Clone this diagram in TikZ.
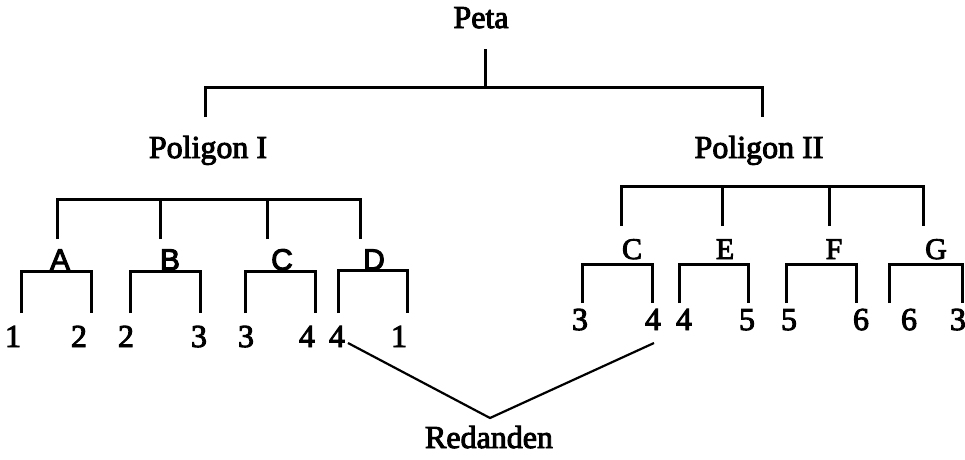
\documentclass[tikz,border=0pt]{standalone}
\usepackage{fontspec}
\setmainfont{Liberation Serif}
\newfontfamily\sertk{Liberation Serif}[FakeBold=3]
\newfontfamily\lsans{Liberation Sans}[FakeBold=3.5]
\begin{document}
\begin{tikzpicture}[x=1pt,y=-1pt,
  ln/.style={line width=3pt,line cap=butt,line join=miter},
  thin/.style={line width=2.2pt},
  tx/.style={inner sep=0pt,anchor=base,font=\sertk\fontsize{32}{36}\selectfont},
  lt/.style={inner sep=0pt,anchor=base,font=\lsans\fontsize{30}{34}\selectfont},
  rt/.style={inner sep=0pt,anchor=base,font=\sertk\fontsize{30}{34}\selectfont}]
\useasboundingbox (0,0) rectangle (965,459);
% top level
\node[tx] (peta) at (481,28) {Peta};
\coordinate (p0) at (485,49);
\coordinate (pbar) at (485,87);
\coordinate (p1) at (205,117);
\coordinate (p2) at (762,117);
\draw[ln] (p0) -- (pbar);
\draw[ln] (p1) |- (pbar) -| (p2);
\node[tx] (pol1) at (208,158) {Poligon I};
\node[tx] (pol2) at (759,158) {Poligon II};
% left group
\coordinate (lbar) at (210,199);
\coordinate (lA) at (57,239);
\coordinate (lB) at (160,239);
\coordinate (lC) at (267,239);
\coordinate (lD) at (360,239);
\draw[ln] (lA) |- (lbar) -| (lD);
\draw[ln] (lB) -- (lB |- lbar);
\draw[ln] (lC) -- (lC |- lbar);
\node[lt] (A) at (60,270) {A};
\node[lt] (B) at (170,270) {B};
\node[lt] (C1) at (282,270) {C};
\node[lt] (D) at (374,270) {D};
% left brackets
\coordinate (Abar) at (56,271);
\coordinate (A1) at (21,313); \coordinate (A2) at (91,313);
\coordinate (Bbar) at (165,271);
\coordinate (B1) at (130,313); \coordinate (B2) at (200,313);
\coordinate (Cbar) at (280,271);
\coordinate (C1a) at (245,313); \coordinate (C1b) at (315,313);
\coordinate (Dbar) at (372,270);
\coordinate (D1) at (338,313); \coordinate (D2) at (407,313);
\draw[ln] (A1) |- (Abar) -| (A2);
\draw[ln] (B1) |- (Bbar) -| (B2);
\draw[ln] (C1a) |- (Cbar) -| (C1b);
\draw[ln] (D1) |- (Dbar) -| (D2);
\node[tx] (nA1) at (13,347) {1};
\node[tx] (nA2) at (79,347) {2};
\node[tx] (nB1) at (126,347) {2};
\node[tx] (nB2) at (199,347) {3};
\node[tx] (nC1) at (246,347) {3};
\node[tx] (nC2) at (307,347) {4};
\node[tx] (nD1) at (337,347) {4};
\node[tx] (nD2) at (399,347) {1};
% right group
\coordinate (rbar) at (760,186);
\coordinate (rC) at (621,226);
\coordinate (rE) at (722,226);
\coordinate (rF) at (829,226);
\coordinate (rG) at (923,226);
\draw[ln] (rC) |- (rbar) -| (rG);
\draw[ln] (rE) -- (rE |- rbar);
\draw[ln] (rF) -- (rF |- rbar);
\node[rt] (C2) at (632,259) {C};
\node[rt] (E) at (725,259) {E};
\node[rt] (F) at (834,259) {F};
\node[rt] (G) at (936,259) {G};
\coordinate (C2bar) at (617,264);
\coordinate (C2a) at (582,303); \coordinate (C2b) at (652,303);
\coordinate (Ebar) at (713,264);
\coordinate (E1) at (679,303); \coordinate (E2) at (748,303);
\coordinate (Fbar) at (821,264);
\coordinate (F1) at (786,303); \coordinate (F2) at (856,303);
\coordinate (Gbar) at (925,264);
\coordinate (G1) at (889,303); \coordinate (G2) at (962,303);
\draw[ln] (C2a) |- (C2bar) -| (C2b);
\draw[ln] (E1) |- (Ebar) -| (E2);
\draw[ln] (F1) |- (Fbar) -| (F2);
\draw[ln] (G1) |- (Gbar) -| (G2);
\node[tx] (nC21) at (580,330) {3};
\node[tx] (nC22) at (653,330) {4};
\node[tx] (nE1) at (684,330) {4};
\node[tx] (nE2) at (747,330) {5};
\node[tx] (nF1) at (789,330) {5};
\node[tx] (nF2) at (861,330) {6};
\node[tx] (nG1) at (909,330) {6};
\node[tx] (nG2) at (958,330) {3};
% redundancy
\node[tx] (red) at (489,448) {Redanden};
\coordinate (rv) at (490,418);
\coordinate (rs1) at (348,343);
\coordinate (rs2) at (654,343);
\draw[thin] (rs1) -- (rv) -- (rs2);
\end{tikzpicture}
\end{document}
